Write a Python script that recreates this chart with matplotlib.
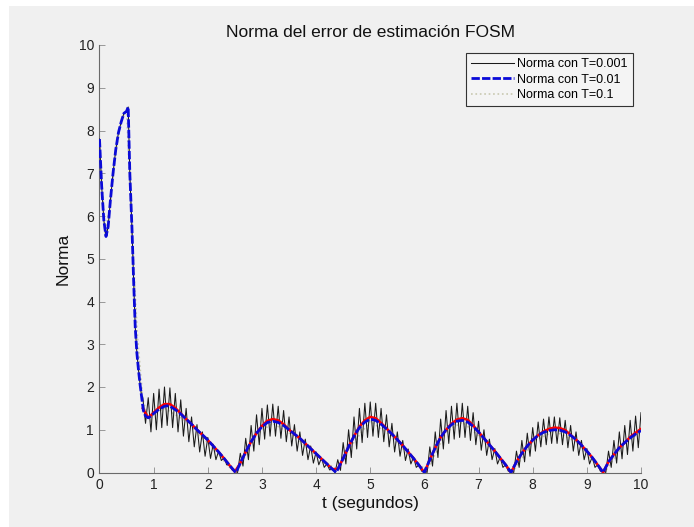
import numpy as np
import matplotlib
matplotlib.use("Agg")
import matplotlib.pyplot as plt
from matplotlib.patches import Rectangle

plt.rcParams['font.family'] = ['Liberation Sans', 'DejaVu Sans']

# ---- datos: norma suave (T=0.01) ----
blue_t = [0.00, 0.04, 0.08, 0.12, 0.16, 0.20, 0.25, 0.30, 0.35, 0.40, 0.45, 0.50, 0.53,
          0.56, 0.60, 0.63, 0.66, 0.69, 0.72, 0.75, 0.78, 0.81, 0.85, 0.90, 0.95,
          1.00, 1.10, 1.20, 1.25, 1.30, 1.40, 1.50, 1.60, 1.70, 1.80, 1.90, 2.00,
          2.10, 2.20, 2.30, 2.40, 2.50, 2.52,
          2.60, 2.70, 2.80, 2.90, 3.00, 3.10, 3.20, 3.30, 3.40, 3.50, 3.60, 3.70,
          3.80, 3.90, 4.00, 4.10, 4.20, 4.30, 4.37,
          4.45, 4.50, 4.60, 4.70, 4.80, 4.90, 5.00, 5.10, 5.20, 5.30, 5.40, 5.50,
          5.60, 5.70, 5.80, 5.90, 6.00,
          6.10, 6.20, 6.30, 6.40, 6.50, 6.60, 6.70, 6.80, 6.90, 7.00, 7.10, 7.20,
          7.30, 7.40, 7.50, 7.60,
          7.70, 7.80, 7.90, 8.00, 8.10, 8.20, 8.30, 8.40, 8.50, 8.60, 8.70, 8.80,
          8.90, 9.00, 9.10, 9.20, 9.30,
          9.40, 9.50, 9.60, 9.70, 9.80, 9.90, 10.00]
blue_v = [7.80, 6.70, 5.90, 5.52, 5.75, 6.35, 7.00, 7.55, 7.95, 8.20, 8.40, 8.45, 8.55,
          7.00, 5.70, 4.50, 3.40, 2.80, 2.40, 2.05, 1.75, 1.45, 1.32, 1.28, 1.32,
          1.38, 1.48, 1.55, 1.56, 1.55, 1.47, 1.37, 1.25, 1.13, 1.00, 0.88, 0.76,
          0.62, 0.48, 0.33, 0.17, 0.02, 0.00,
          0.22, 0.48, 0.72, 0.92, 1.07, 1.17, 1.20, 1.17, 1.10, 1.00, 0.90, 0.80,
          0.68, 0.56, 0.44, 0.32, 0.20, 0.08, 0.00,
          0.20, 0.33, 0.60, 0.85, 1.05, 1.18, 1.25, 1.22, 1.13, 1.02, 0.90, 0.77,
          0.63, 0.48, 0.33, 0.17, 0.00,
          0.30, 0.58, 0.82, 1.00, 1.12, 1.20, 1.22, 1.18, 1.08, 0.95, 0.80, 0.65,
          0.50, 0.34, 0.18, 0.00,
          0.25, 0.45, 0.62, 0.76, 0.87, 0.94, 0.98, 1.00, 0.99, 0.95, 0.87, 0.77,
          0.64, 0.50, 0.35, 0.18, 0.00,
          0.25, 0.42, 0.58, 0.70, 0.81, 0.90, 0.98]

# ---- norma de referencia (roja), cada 0.1 s desde 0.8 ----
red_t = np.linspace(0.8, 10.0, 93)
red_v = [1.50, 1.28, 1.40, 1.52, 1.60, 1.60, 1.51, 1.38, 1.25, 1.13,
         1.00, 0.88, 0.76, 0.62, 0.48, 0.33, 0.17, 0.02, 0.22, 0.48,
         0.72, 0.92, 1.09, 1.21, 1.25, 1.22, 1.13, 1.00, 0.90, 0.80,
         0.68, 0.56, 0.44, 0.32, 0.20, 0.08, 0.08, 0.33, 0.60, 0.85,
         1.07, 1.22, 1.30, 1.27, 1.16, 1.03, 0.90, 0.77, 0.63, 0.48,
         0.33, 0.17, 0.00, 0.30, 0.58, 0.82, 1.00, 1.14, 1.24, 1.27,
         1.23, 1.10, 0.95, 0.80, 0.65, 0.50, 0.34, 0.18, 0.00, 0.25,
         0.45, 0.62, 0.76, 0.87, 0.96, 1.02, 1.05, 1.04, 0.99, 0.88,
         0.77, 0.64, 0.50, 0.35, 0.18, 0.00, 0.25, 0.42, 0.58, 0.70,
         0.83, 0.93, 1.02]

# ---- T=0.001: picos (cada 0.1 s desde 0.8) y valles (a mitad de periodo) ----
hi_v = [1.75, 1.75, 1.85, 1.95, 2.00, 1.98, 1.85, 1.70, 1.50, 1.30,
        1.12, 0.95, 0.82, 0.66, 0.50, 0.35, 0.17, 0.03, 0.45, 0.80,
        1.10, 1.35, 1.50, 1.58, 1.60, 1.55, 1.45, 1.30, 1.12, 0.95,
        0.78, 0.62, 0.48, 0.34, 0.20, 0.08, 0.30, 0.70, 1.00, 1.30,
        1.50, 1.62, 1.65, 1.62, 1.50, 1.35, 1.15, 0.95, 0.75, 0.55,
        0.36, 0.18, 0.05, 0.60, 0.95, 1.25, 1.45, 1.55, 1.62, 1.62,
        1.55, 1.40, 1.20, 1.00, 0.78, 0.56, 0.36, 0.18, 0.05, 0.50,
        0.75, 0.92, 1.05, 1.18, 1.25, 1.30, 1.30, 1.28, 1.22, 1.10,
        0.95, 0.75, 0.56, 0.37, 0.18, 0.05, 0.50, 0.75, 0.95, 1.10,
        1.22, 1.32, 1.40]
lo_v = [1.15, 0.95, 1.00, 1.05, 1.10, 1.05, 0.95, 0.85, 0.72, 0.60,
        0.48, 0.38, 0.33, 0.30, 0.28, 0.18, 0.06, 0.00, 0.15, 0.30,
        0.50, 0.65, 0.78, 0.85, 0.85, 0.80, 0.72, 0.62, 0.50, 0.40,
        0.30, 0.22, 0.18, 0.12, 0.06, 0.00, 0.05, 0.20, 0.35, 0.55,
        0.70, 0.82, 0.85, 0.82, 0.72, 0.60, 0.48, 0.38, 0.28, 0.20,
        0.12, 0.03, 0.00, 0.15, 0.35, 0.55, 0.68, 0.78, 0.82, 0.82,
        0.75, 0.65, 0.52, 0.40, 0.30, 0.20, 0.12, 0.03, 0.00, 0.12,
        0.25, 0.38, 0.50, 0.60, 0.65, 0.68, 0.68, 0.65, 0.58, 0.50,
        0.40, 0.30, 0.20, 0.12, 0.03, 0.00, 0.12, 0.22, 0.32, 0.42,
        0.50, 0.58]

# ---- T=0.1 ----
t01_t = [0.0, 0.1, 0.2, 0.3, 0.4, 0.5, 0.6, 0.7, 0.8, 0.9, 1.2, 1.6, 2.0, 2.4, 2.55,
         2.9, 3.2, 3.6, 4.0, 4.4, 4.6, 5.0, 5.4, 5.8, 6.05, 6.4, 6.7, 7.1, 7.5, 7.65,
         8.0, 8.4, 8.8, 9.2, 9.35, 9.7, 10.0]
t01_v = [7.8, 5.6, 6.3, 7.5, 8.2, 8.5, 5.6, 3.2, 1.7, 1.3, 1.5, 1.2, 0.7, 0.12, 0.05,
         0.9, 1.15, 0.85, 0.4, 0.05, 0.55, 1.2, 0.85, 0.28, 0.05, 0.95, 1.18, 0.75, 0.15, 0.05,
         0.72, 0.97, 0.72, 0.15, 0.05, 0.68, 0.95]

# serie oscilante: tramo inicial igual a la suave + picos/valles alternados
blue_t = np.array(blue_t)
blue_v = np.array(blue_v)
osc = np.empty(len(hi_v) + len(lo_v))
osc[0::2] = hi_v
osc[1::2] = lo_v
head = blue_t < 0.8
blk_t = np.concatenate([blue_t[head], np.linspace(0.8, 10.0, len(osc))])
blk_v = np.concatenate([blue_v[head], osc])

# ---- figura ----
W, H = 694, 527
fig = plt.figure(figsize=(W / 100, H / 100), dpi=100)
fig.patch.set_facecolor('white')
fig.patches.append(Rectangle((9 / W, 0), 1, 1 - 6 / H, transform=fig.transFigure,
                             facecolor='#f0f0f0', edgecolor='none', zorder=-10))

ax = fig.add_axes([99.5 / W, (H - 472.5) / H, 541.5 / W, 427.5 / H])
ax.set_facecolor('none')

ax.plot(t01_t, t01_v, ':', color='#c8c8b0', lw=1.2, label='Norma con T=0.1', zorder=2)
ax.plot(blk_t, blk_v, '-', color='#1a1a1a', lw=0.75, label='Norma con T=0.001', zorder=3)
ax.plot(red_t, red_v, '-', color='#ff0000', lw=1.8, zorder=4)
ax.plot(blue_t, blue_v, '--', color='#0a0ad8', lw=2.0, dashes=(3, 0.8),
        label='Norma con T=0.01', zorder=5)

ax.set_xlim(0, 10)
ax.set_ylim(0, 10)
ax.set_xticks(range(0, 11))
ax.set_yticks(range(0, 11))
for s in ('top', 'right'):
    ax.spines[s].set_visible(False)
for s in ('left', 'bottom'):
    ax.spines[s].set_color('#6a6a6a')
    ax.spines[s].set_linewidth(0.8)
ax.tick_params(direction='in', length=4, width=0.6, color='#8a8a8a',
               labelsize=10, labelcolor='#222222', pad=4)

ax.set_title('Norma del error de estimación FOSM', fontsize=12.5, color='#111111', pad=6)
ax.set_xlabel('t (segundos)', fontsize=12.5, color='#111111', labelpad=3)
ax.set_ylabel('Norma', fontsize=12.5, color='#111111', labelpad=6)

h, l = ax.get_legend_handles_labels()
order = [1, 2, 0]
leg = ax.legend([h[i] for i in order], [l[i] for i in order], loc='upper right',
                bbox_to_anchor=(0.985, 0.981), fontsize=9, handlelength=3.4,
                fancybox=False, framealpha=1, borderpad=0.4, labelspacing=0.28,
                handletextpad=0.3, borderaxespad=0)
leg.get_frame().set_facecolor('#f4f4f4')
leg.get_frame().set_edgecolor('#333333')
leg.get_frame().set_linewidth(0.8)

fig.savefig('out.png', dpi=100, facecolor=fig.get_facecolor())
